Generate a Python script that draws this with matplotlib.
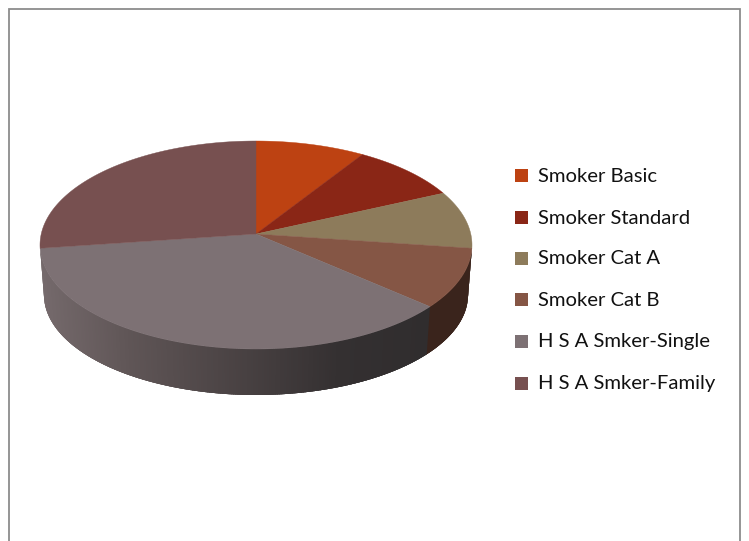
import numpy as np
import matplotlib
matplotlib.use("Agg")
import matplotlib.pyplot as plt
from matplotlib.patches import Polygon, Rectangle

categories = ["Smoker Basic", "Smoker Standard", "Smoker Cat A", "Smoker Cat B",
              "H S A Smker-Single", "H S A Smker-Family"]
values = [8.2, 8.5, 8.8, 9.6, 39.4, 25.5]
colors = ["#BD4212", "#8A2616", "#8D7B5B", "#855645", "#7D7174", "#775050"]

W, H = 749, 541
cx, cy, rx, ry = 256, 245, 216, 104
bcy, brx, bry = 295, 212, 100
apex = (256, 234)

fig = plt.figure(figsize=(W / 100, H / 100), dpi=100)
ax = fig.add_axes([0, 0, 1, 1])
ax.set_xlim(0, W)
ax.set_ylim(H, 0)
ax.axis("off")

ax.add_patch(Rectangle((9, 9), 730.5, 560, fc="white", ec="#8C8C8C", lw=1.3, zorder=0))


def rim(theta):
    t = np.radians(theta)
    return cx + rx * np.sin(t), cy - ry * np.cos(t)


def rim_low(theta):
    t = np.radians(theta)
    return cx + brx * np.sin(t), bcy - bry * np.cos(t)


edges = np.concatenate([[0], np.cumsum(values)]) / np.sum(values) * 360

# side wall, painted strip by strip with overlap
ths = np.linspace(90, edges[5], 300)
grad_x = [40, 130, 250, 340, 428]
grad_c = ["#756A6C", "#5F5556", "#474041", "#343031", "#302D2E"]
grad_rgb = np.array([matplotlib.colors.to_rgb(c) for c in grad_c])
for a, b in zip(ths[:-1], ths[1:]):
    b2 = min(b + 1.5, edges[5])
    x0, y0 = rim(a)
    x1, y1 = rim(b2)
    x0l, y0l = rim_low(a)
    x1l, y1l = rim_low(b2)
    xm = (x0 + rim(b)[0]) / 2
    if (a + b) / 2 < edges[4]:
        col = "#3A241C"
    else:
        col = [np.interp(xm, grad_x, grad_rgb[:, k]) for k in range(3)]
    ax.add_patch(Polygon([(x0, y0), (x1, y1), (x1l, y1l), (x0l, y0l)],
                         fc=col, ec="none", zorder=2))

# top faces
for i in range(len(values)):
    th = np.linspace(edges[i], edges[i + 1], 120)
    xs, ys = rim(th)
    pts = [apex] + list(zip(xs, ys))
    ax.add_patch(Polygon(pts, fc=colors[i], ec=colors[i], lw=0.3, zorder=3))

# legend
ly = [175, 217, 258, 299, 341, 383]
for name, col, y in zip(categories, colors, ly):
    ax.add_patch(Rectangle((515, y - 6.5), 13, 13, fc=col, ec="none", zorder=3))
    ax.text(537.5, y + 1, name, fontsize=14.6, family="Lato", color="#111111",
            va="center", ha="left", zorder=4)

fig.savefig("out.png", dpi=100)
